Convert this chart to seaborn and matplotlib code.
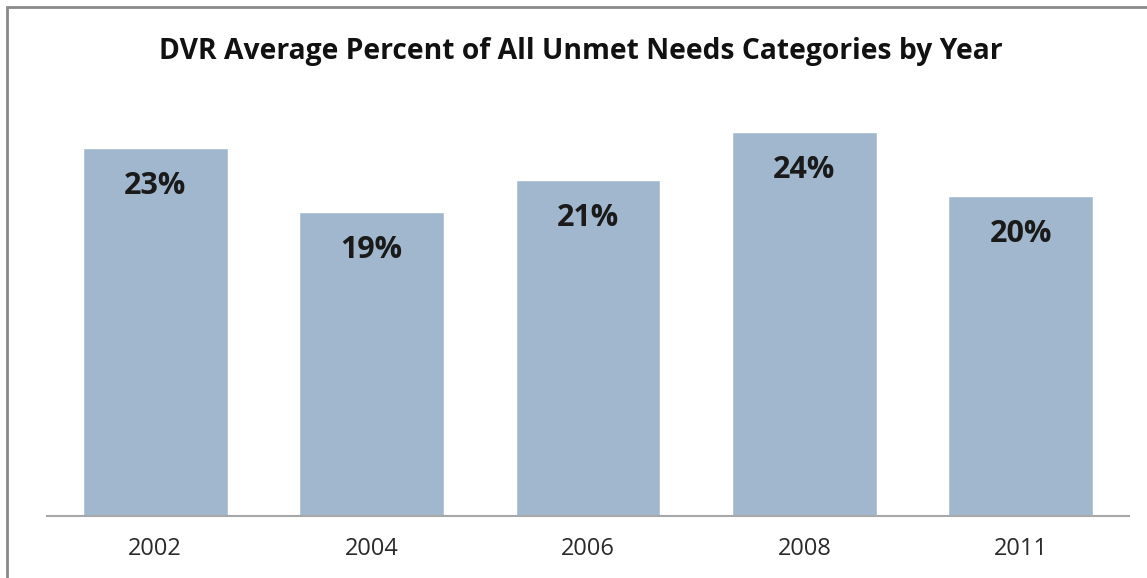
"""DVR unmet needs bar chart"""

import matplotlib
matplotlib.use("Agg")
import matplotlib.pyplot as plt
import matplotlib.patches as mpatches
import pandas as pd
import seaborn as sns

years = ["2002", "2004", "2006", "2008", "2011"]
percents = [23, 19, 21, 24, 20]
labels = ["23%", "19%", "21%", "24%", "20%"]

sns.set_theme(style="white")
plt.rcParams['font.family'] = ["Open Sans", "DejaVu Sans"]

df = pd.DataFrame({"year": years, "pct": percents})

fig = plt.figure(figsize=(11.47, 5.78), dpi=100)
ax = fig.add_axes([47 / 1147, 62 / 578, 1082 / 1147, 400 / 578])

sns.barplot(data=df, x="year", y="pct", color="#a1b7cd", saturation=1, width=0.67, ax=ax)
ax.set_xlim(-0.5, 4.5)
ax.set_ylim(0, 25)

for i, (v, lab) in enumerate(zip(percents, labels)):
    ax.annotate(lab, (i, v), xytext=(0, -38), textcoords="offset pixels",
                ha="center", va="center", fontsize=22, fontweight="bold", color="#1a1a1a")

ax.set_xlabel("")
ax.set_ylabel("")
ax.set_yticks([])
ax.tick_params(axis="x", length=0, labelsize=17, labelcolor="#2a2a2a", pad=15)
for side in ["left", "right", "top"]:
    ax.spines[side].set_visible(False)
ax.spines["bottom"].set_color("#a8a8a8")
ax.spines["bottom"].set_linewidth(1.5)

fig.text(581 / 1147, 1 - 51 / 578, "DVR Average Percent of All Unmet Needs Categories by Year",
         ha="center", va="center", fontsize=20.3, fontweight="bold", color="#111111")

# outer frame (left and top edges visible)
fig.patches.append(mpatches.Rectangle((7 / 1147, -0.1), 1.2, 1.1 - 7 / 578, transform=fig.transFigure,
                                      fill=False, edgecolor="#8a8a8a", linewidth=2, figure=fig))

fig.savefig("out.png", dpi=100)
